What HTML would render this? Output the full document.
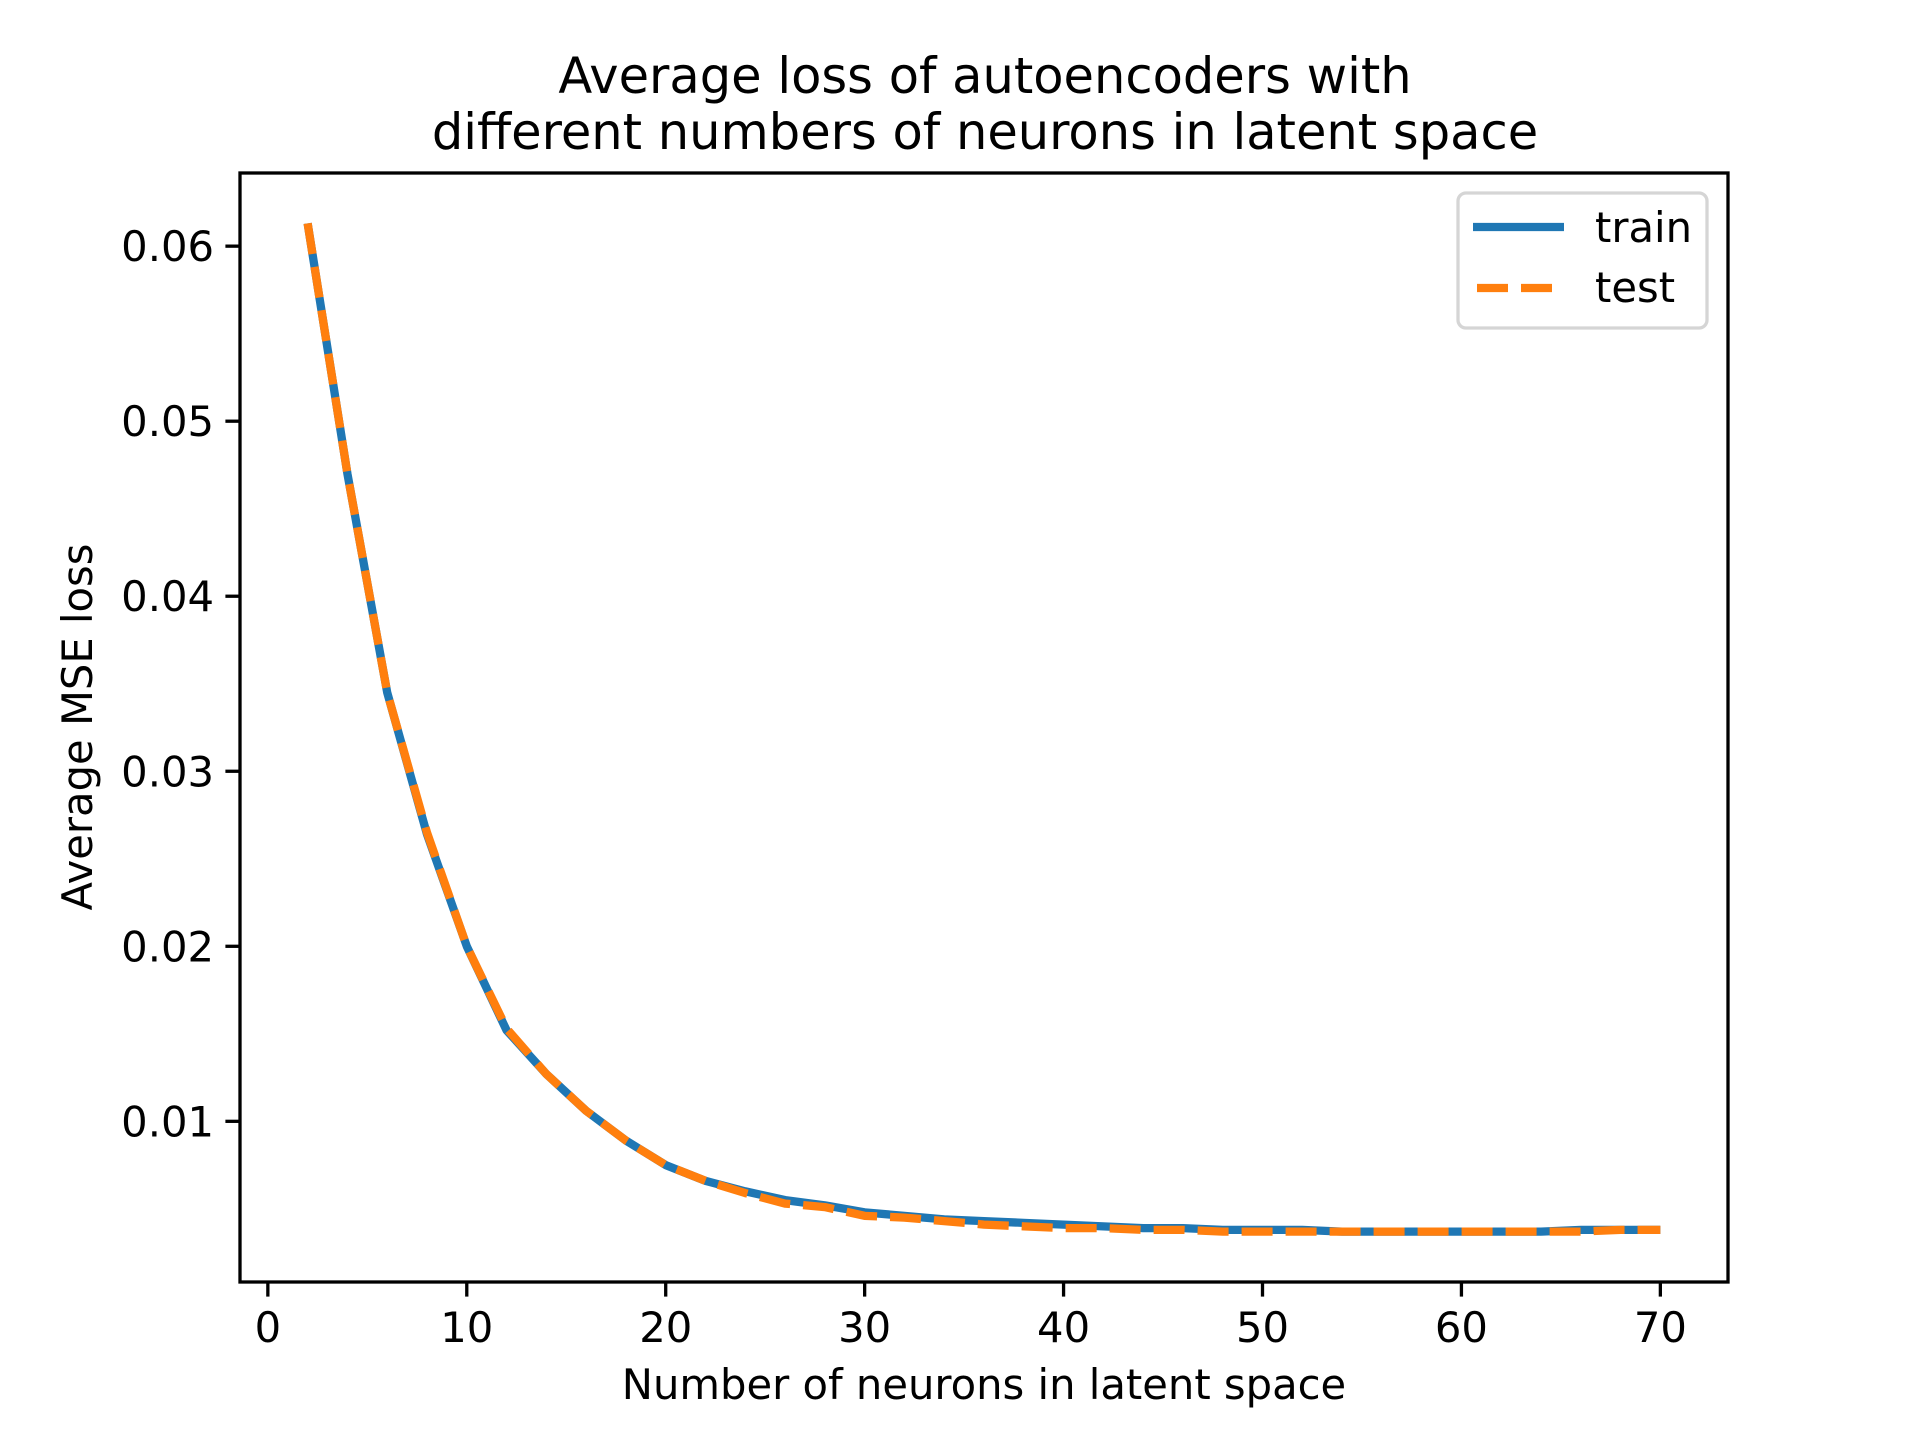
<!DOCTYPE html>
<html><head><meta charset="utf-8"><style>
html,body{margin:0;padding:0;background:#fff;}
svg{display:block;font-family:"DejaVu Sans","Liberation Sans",sans-serif;}
</style></head><body>
<svg id="chart" width="1920" height="1440" viewBox="0 0 1920 1440" xmlns="http://www.w3.org/2000/svg">
<rect width="1920" height="1440" fill="#fff"/>
<g font-size="49.5" text-anchor="middle" fill="#000">
<text x="985" y="93">Average loss of autoencoders with</text>
<text x="985" y="149">different numbers of neurons in latent space</text>
</g>
<g id="series"></g>
<g id="axes"></g>
<rect x="240" y="173" width="1488" height="1109" fill="none" stroke="#000" stroke-width="3.3"/>
<text x="984" y="1399" font-size="41.7" text-anchor="middle">Number of neurons in latent space</text>
<text transform="translate(92,727) rotate(-90)" font-size="41.7" text-anchor="middle">Average MSE loss</text>
<g>
<rect x="1458" y="193" width="249" height="135" rx="8" fill="#fff" fill-opacity="0.8" stroke="#d5d5d5" stroke-width="3.3"/>
<line x1="1473" y1="227" x2="1564" y2="227" stroke="#1f77b4" stroke-width="8.3"/>
<text x="1595" y="242" font-size="41.7">train</text>
<line x1="1477" y1="288" x2="1564" y2="288" stroke="#ff7f0e" stroke-width="8.3" stroke-dasharray="31 13"/>
<text x="1595" y="302" font-size="41.7">test</text>
</g>
</svg>
<script>
const neurons = [2,4,6,8,10,12,14,16,18,20,22,24,26,28,30,32,34,36,38,40,42,44,46,48,50,52,54,56,58,60,62,64,66,68,70];
const trainLoss = [0.0613,0.0470,0.0345,0.0264,0.0200,0.0152,0.0127,0.0106,0.0089,0.0075,0.0066,0.0060,0.0055,0.0052,0.0048,0.0046,0.0044,0.0043,0.0042,0.0041,0.0040,0.0039,0.0039,0.0038,0.0038,0.0038,0.0037,0.0037,0.0037,0.0037,0.0037,0.0037,0.0038,0.0038,0.0038];
const testLoss = [0.0613,0.0470,0.0345,0.0265,0.0200,0.0153,0.0127,0.0106,0.0089,0.0075,0.0066,0.0059,0.0053,0.0051,0.0046,0.0045,0.0043,0.0041,0.0040,0.0039,0.0039,0.0038,0.0038,0.0037,0.0037,0.0037,0.0037,0.0037,0.0037,0.0037,0.0037,0.0037,0.0037,0.0038,0.0038];
const xTicks = [0,10,20,30,40,50,60,70];
const yTicks = [0.01,0.02,0.03,0.04,0.05,0.06];
const yTickLabels = ["0.01","0.02","0.03","0.04","0.05","0.06"];

const L=240,R=1728,T=173,B=1282;
const xmin0=Math.min(...neurons), xmax0=Math.max(...neurons);
const xpad=(xmax0-xmin0)*0.05, xmin=xmin0-xpad, xmax=xmax0+xpad;
const all=trainLoss.concat(testLoss);
const ymin0=Math.min(...all), ymax0=Math.max(...all);
const ypad=(ymax0-ymin0)*0.05, ymin=ymin0-ypad, ymax=ymax0+ypad;
function xs(v){return L+(v-xmin)/(xmax-xmin)*(R-L);}
function ys(v){return B-(v-ymin)/(ymax-ymin)*(B-T);}
const NS="http://www.w3.org/2000/svg";
const series=document.getElementById('series');
const axes=document.getElementById('axes');
function mk(tag,attrs,parent){const e=document.createElementNS(NS,tag);for(const k in attrs)e.setAttribute(k,attrs[k]);parent.appendChild(e);return e;}
function pts(arr){return neurons.map((n,i)=>xs(n).toFixed(2)+','+ys(arr[i]).toFixed(2)).join(' ');}
const tl=mk('polyline',{points:pts(trainLoss),fill:'none',stroke:'#1f77b4','stroke-width':8.3,'stroke-linejoin':'round','stroke-linecap':'butt'},series);


const te=mk('polyline',{points:pts(testLoss),fill:'none',stroke:'#ff7f0e','stroke-width':8.3,'stroke-dasharray':'31 13','stroke-linejoin':'round','stroke-linecap':'butt'},series);


xTicks.forEach(v=>{
  const x=xs(v);
  const t=mk('line',{x1:x,y1:B,x2:x,y2:B+14.6,stroke:'#000','stroke-width':3.3},axes);
  
  
  const lb=mk('text',{x:x,y:B+60,'font-size':41.7,'text-anchor':'middle'},axes);
  lb.textContent=String(v);
  
  
});
yTicks.forEach((v,i)=>{
  const y=ys(v);
  const t=mk('line',{x1:L-14.6,y1:y,x2:L,y2:y,stroke:'#000','stroke-width':3.3},axes);
  
  
  const lb=mk('text',{x:L-26,y:y+15,'font-size':41.7,'text-anchor':'end'},axes);
  lb.textContent=yTickLabels[i];
  
  
});
</script>
</body></html>
